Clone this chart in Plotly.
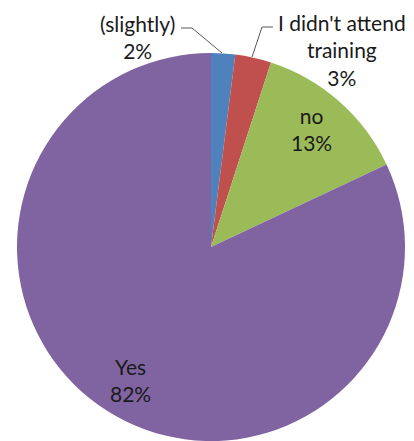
import plotly.graph_objects as go

# Survey answers, in clockwise order from 12 o'clock
labels = ["(slightly)", "I didn't attend<br>training", "no", "Yes"]
values = [2, 3, 13, 82]
colors = ["#4F81BD", "#C0504D", "#9BBB59", "#8064A2"]

W, H = 414, 441

fig = go.Figure(
    go.Pie(
        labels=labels,
        values=values,
        sort=False,
        direction="clockwise",
        rotation=0,
        marker=dict(colors=colors, line=dict(width=0)),
        textinfo="none",
        hoverinfo="skip",
        showlegend=False,
        domain=dict(x=[17 / W, 405 / W], y=[0, 1 - 53 / H]),
    )
)

# Label placement (pixel centres) for each slice
label_pos = [(137, 37), (342, 50), (311, 129), (130, 380)]
font = dict(family="Lato, Roboto, sans-serif", size=21, color="#1a1a1a")
total = sum(values)
for lab, val, (px, py) in zip(labels, values, label_pos):
    fig.add_annotation(
        x=px / W, y=1 - py / H, xref="paper", yref="paper",
        text=f"{lab}<br>{round(100 * val / total)}%",
        showarrow=False, font=font, align="center",
        xanchor="center", yanchor="middle",
    )

# Leader lines for the two thin slices
leaders = [
    [(181, 28), (192, 28), (222, 53)],
    [(273, 27), (262, 27), (252, 57)],
]
for pts in leaders:
    path = "M " + " L ".join(f"{x / W} {1 - y / H}" for x, y in pts)
    fig.add_shape(type="path", path=path, xref="paper", yref="paper",
                  line=dict(color="#595959", width=1))

fig.update_layout(
    width=W, height=H,
    margin=dict(l=0, r=0, t=0, b=0),
    paper_bgcolor="white", plot_bgcolor="white",
)

fig.write_html("out.html")
